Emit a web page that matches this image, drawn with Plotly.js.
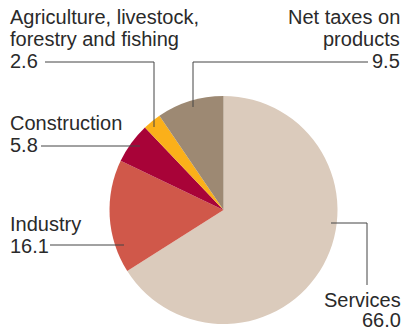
<!DOCTYPE html>
<html>
<head>
<meta charset="utf-8">
<script src="https://cdn.plot.ly/plotly-3.0.1.min.js"></script>
<style>html,body{margin:0;padding:0;background:#fff;}#chart{width:407px;height:330px;}</style>
</head>
<body>
<div id="chart"></div>
<script>
// ---- data ----
const categories = ["Services", "Industry", "Construction", "Agriculture, livestock, forestry and fishing", "Net taxes on products"];
const values = [66.0, 16.1, 5.8, 2.6, 9.5];
const labelLines = [
  ["Services"],
  ["Industry"],
  ["Construction"],
  ["Agriculture, livestock,", "forestry and fishing"],
  ["Net taxes on", "products"]
];
const colors = ["#dbcbbc", "#d0584a", "#a80338", "#fbb01a", "#9d8973"];

// ---- layout helpers (pixel -> paper) ----
const W = 407, H = 330;
const fx = x => x / W;
const fy = y => 1 - y / H;

// label placement: [anchor x px, first baseline px, xanchor, line gap]
const labelPos = [
  [403, 307, "right", 20],
  [8, 231, "left", 22],
  [8, 130, "left", 22],
  [8, 24, "left", 22],
  [402, 24, "right", 22]
];
const fontSize = 20;

const annotations = [];
categories.forEach((c, i) => {
  const lines = labelLines[i].concat([values[i].toFixed(1)]);
  const [ax, b0, xa, gap] = labelPos[i];
  lines.forEach((t, k) => {
    annotations.push({
      xref: "paper", yref: "paper",
      x: fx(ax), y: fy(b0 + k * gap - 7),
      xanchor: xa, yanchor: "middle",
      text: t, showarrow: false,
      font: {family: "Liberation Sans, Arial, sans-serif", size: fontSize, color: "#2a2a2a"}
    });
  });
});

// leader lines (pixel paths)
const leaders = [
  [[331, 223], [367, 223], [367, 285]],
  [[50, 245], [124, 245]],
  [[41, 146], [140, 146]],
  [[45, 62], [154, 62], [154, 127]],
  [[368, 62], [193, 62], [193, 107]]
];
const shapes = leaders.map(pts => ({
  type: "path", xref: "paper", yref: "paper",
  path: pts.map((p, k) => (k ? "L" : "M") + fx(p[0]) + "," + fy(p[1])).join(" "),
  line: {color: "#444", width: 1}
}));

const cx = 223.5, cy = 210, r = 114;

Plotly.newPlot("chart", [{
  type: "pie",
  labels: categories,
  values: values,
  sort: false,
  direction: "clockwise",
  rotation: 0,
  marker: {colors: colors, line: {width: 0}},
  textinfo: "none",
  hoverinfo: "skip",
  showlegend: false,
  domain: {x: [fx(cx - r), fx(cx + r)], y: [fy(cy + r), fy(cy - r)]}
}], {
  width: W, height: H, autosize: false,
  margin: {l: 0, r: 0, t: 0, b: 0, pad: 0},
  paper_bgcolor: "#fff",
  showlegend: false,
  annotations: annotations,
  shapes: shapes
}, {staticPlot: true, displayModeBar: false});
</script>
</body>
</html>
